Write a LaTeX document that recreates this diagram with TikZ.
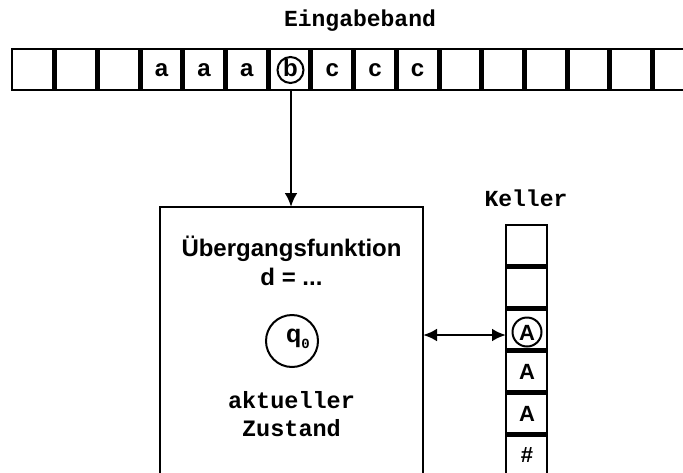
\documentclass[tikz,border=0pt]{standalone}
\usepackage{fontspec}
\setmainfont{Liberation Sans}
\setsansfont{Liberation Sans}
\setmonofont{Liberation Mono}
\usetikzlibrary{arrows.meta}

\tikzset{
  title/.style={font=\ttfamily\bfseries\fontsize{23}{26}\selectfont, inner sep=0pt},
  monotext/.style={font=\ttfamily\bfseries\fontsize{23.5}{28}\selectfont, align=center, inner sep=0pt},
  sanstext/.style={font=\sffamily\bfseries\fontsize{24}{28.5}\selectfont, align=center, inner sep=0pt},
  tapesym/.style={font=\sffamily\bfseries\fontsize{24}{26}\selectfont, inner sep=0pt},
  stacksym/.style={font=\sffamily\bfseries\fontsize{22}{24}\selectfont, inner sep=0pt},
  frame/.style={line width=2.8pt},
  sep/.style={line width=5pt},
  mark circle/.style={draw, circle, line width=2pt, inner sep=0pt},
  link/.style={line width=2.8pt, -{Latex[length=14pt,width=13pt]}},
  biglink/.style={line width=2.8pt, {Latex[length=14pt,width=13pt]}-{Latex[length=14pt,width=13pt]}},
}

\begin{document}
\begin{tikzpicture}[x=1pt,y=-1pt]
  \useasboundingbox (0,0) rectangle (683,472);
  \clip (0,0) rectangle (683,472);

  % --- input tape ---
  \node[title] (bandlabel) at (360,21) {Eingabeband};
  \draw[frame] (12,49) rectangle (720,90);
  \foreach \i in {1,...,15} {
    \draw[sep] ({12+42.7*\i},49) -- ({12+42.7*\i},90);
  }
  \foreach \i/\s in {3/a,4/a,5/a,7/c,8/c,9/c} {
    \node[tapesym] (t\i) at ({12+42.7*\i+21.35},71) {\strut\s};
  }
  \node[tapesym] (tb) at (290.5,71) {\strut b};
  \node[mark circle, minimum size=26pt] (head) at (290.5,70) {};
  \coordinate (tapebottom) at (291,90);

  % --- finite control ---
  \draw[frame] (160,490) -- (160,207) -- (423,207) -- (423,490);
  \coordinate (boxtop) at (291,207);
  \coordinate (boxright) at (423,335);
  \node[sanstext] (delta) at (291.5,261) {Übergangsfunktion\\d = ...};
  \node[draw, circle, line width=2pt, minimum size=52pt] (state) at (292,341) {};
  \node[font=\sffamily\bfseries\fontsize{25}{28}\selectfont, inner sep=0pt] (qlabel) at (298,339)
    {q\raisebox{-6pt}{\ttfamily\bfseries\fontsize{14}{14}\selectfont 0}};
  \node[monotext] (zustand) at (291.5,414) {aktueller\\Zustand};

  % --- pushdown stack ---
  \node[title] (kellerlabel) at (526,198) {Keller};
  \draw[frame] (506,490) -- (506,225) -- (547,225) -- (547,490);
  \foreach \y in {266,308,350,392,434} {
    \draw[sep] (506,\y) -- (547,\y);
  }
  \node[stacksym] (s3) at (527,333) {A};
  \node[mark circle, minimum size=29pt] (stacktop) at (527,332) {};
  \node[stacksym] (s4) at (527,372) {A};
  \node[stacksym] (s5) at (527,414) {A};
  \node[stacksym] (s6) at (527,455) {\#};
  \coordinate (stackleft) at (506,335);

  % --- connectors ---
  \draw[link] (tapebottom) -- (boxtop);
  \draw[biglink] (boxright) -- (stackleft);
\end{tikzpicture}
\end{document}
